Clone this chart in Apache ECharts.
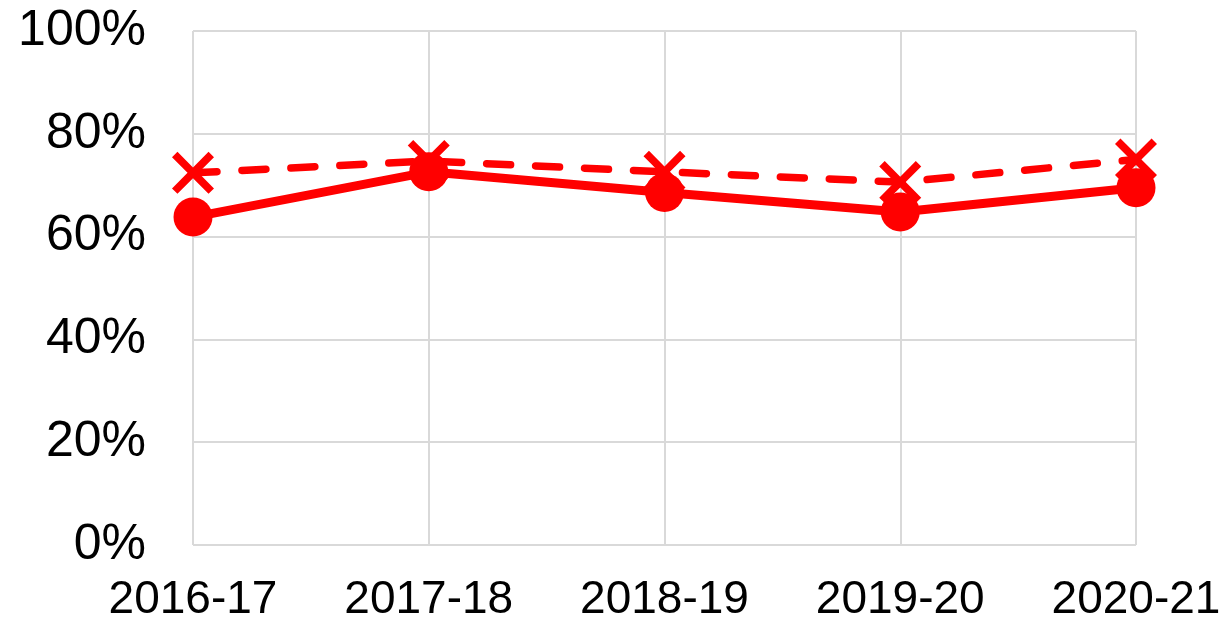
<!DOCTYPE html>
<html>
<head>
<meta charset="utf-8">
<script src="https://cdn.jsdelivr.net/npm/echarts@6/dist/echarts.min.js"></script>
<style>
  html, body { margin: 0; padding: 0; background: #fff; }
  #chart { width: 1224px; height: 624px; }
</style>
</head>
<body>
<div id="chart"></div>
<script>
// categories + values (percent)
const years = ["2016-17", "2017-18", "2018-19", "2019-20", "2020-21"];
const solidValues = [63.8, 72.6, 68.6, 64.8, 69.5];
const dashedValues = [72.4, 74.7, 72.6, 70.6, 75.0];
const yTicks = [0, 20, 40, 60, 80, 100];

const red = "#ff0000";
const gridColor = "#d9d9d9";
// X shape for the dashed series markers
const crossPath = "path://M0,13 L13,0 L50,37 L87,0 L100,13 L63,50 L100,87 L87,100 L50,63 L13,100 L0,87 L37,50 Z";

const chart = echarts.init(document.getElementById("chart"));

const option = {
  animation: false,
  grid: {
    left: 193,
    right: 88,
    top: 31,
    bottom: 79,
  },
  xAxis: {
    type: "category",
    data: years,
    boundaryGap: false,
    axisLine: { show: false },
    axisTick: { show: false },
    splitLine: {
      show: true,
      lineStyle: { color: gridColor, width: 2 },
    },
    axisLabel: {
      color: "#000",
      fontFamily: "Liberation Sans, Arial, sans-serif",
      fontSize: 46,
      margin: 32,
    },
  },
  yAxis: {
    type: "value",
    min: yTicks[0],
    max: yTicks[yTicks.length - 1],
    interval: 20,
    axisLine: { show: false },
    axisTick: { show: false },
    splitLine: {
      show: true,
      lineStyle: { color: gridColor, width: 2 },
    },
    axisLabel: {
      color: "#000",
      fontFamily: "Liberation Sans, Arial, sans-serif",
      fontSize: 50,
      margin: 47,
      formatter: (v) => `${v}%`,
    },
  },
  series: [
    {
      type: "line",
      data: dashedValues,
      symbol: crossPath,
      symbolSize: 42,
      itemStyle: { color: red },
      lineStyle: { color: red, width: 7.5, type: [24, 25], cap: "round" },
      z: 2,
    },
    {
      type: "line",
      data: solidValues,
      symbol: "circle",
      symbolSize: 39,
      itemStyle: { color: red },
      lineStyle: { color: red, width: 9 },
      z: 3,
    },
  ],
};

chart.setOption(option);
</script>
</body>
</html>
